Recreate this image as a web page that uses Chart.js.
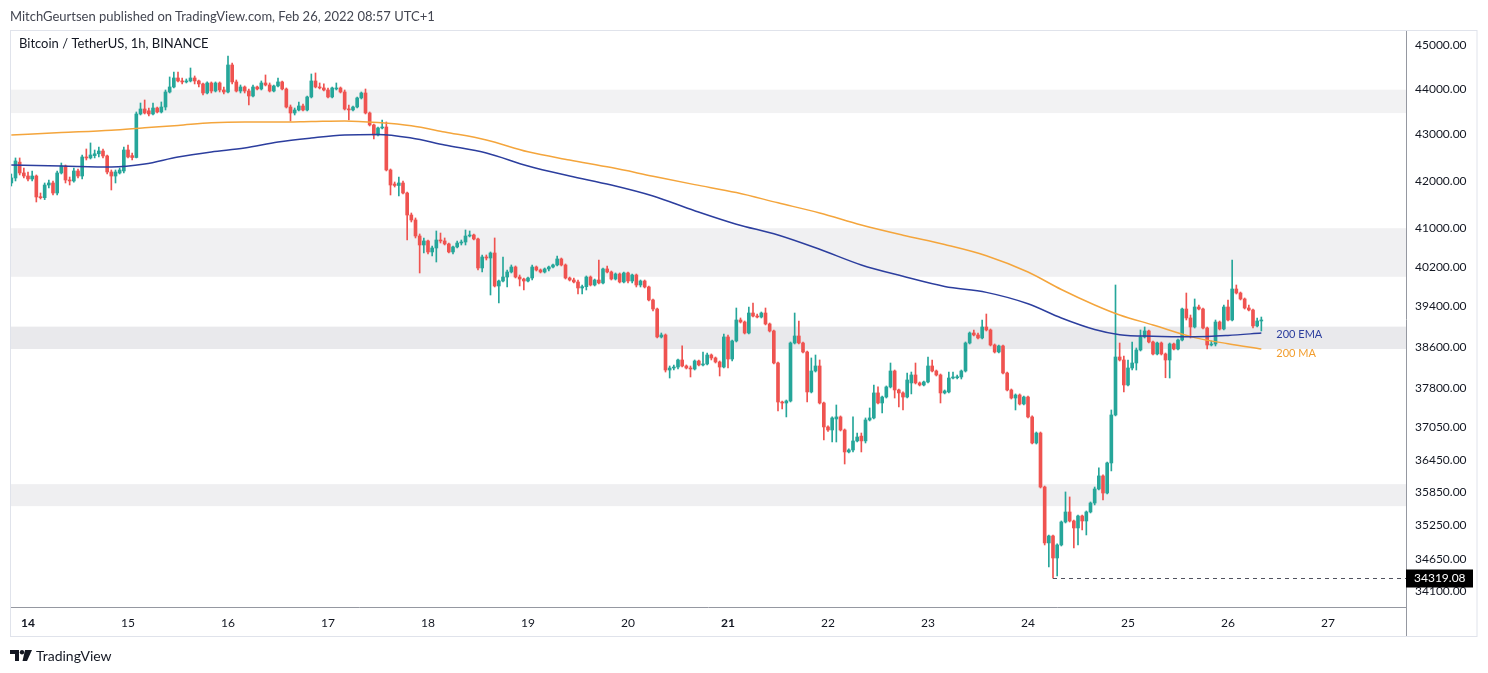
<!DOCTYPE html>
<html>
<head>
<meta charset="utf-8">
<title>BTCUSDT 1h</title>
<script src="https://cdn.jsdelivr.net/npm/chart.js@4.4.1/dist/chart.umd.min.js"></script>
<style>
  body { margin: 0; background: #ffffff; }
  #wrap { position: relative; width: 1488px; height: 673px; }
  #pub { position: absolute; left: 10px; top: 8px; font: 13px 'Lato', sans-serif; color: #434651; white-space: nowrap; }
  #brand { position: absolute; left: 10px; top: 647px; font: 14px 'Lato', sans-serif; color: #131722; display: flex; align-items: center; }
  #brand svg { margin-right: 4px; }
  canvas { position: absolute; left: 0; top: 0; }
</style>
</head>
<body>
<div id="wrap">
  <canvas id="chart" width="1488" height="673"></canvas>
  <div id="pub">MitchGeurtsen published on TradingView.com, Feb 26, 2022 08:57 UTC+1</div>
  <div id="brand">
    <svg width="22" height="11" viewBox="0 0 22 11"><path d="M0 0H9V11H5V4H0Z" fill="#131722"/><circle cx="12" cy="2.2" r="2.2" fill="#131722"/><path d="M15 0H22L17 11H12.5Z" fill="#131722"/></svg>
    <span>TradingView</span>
  </div>
</div>
<script>
// hourly candles, first one is Feb 13 20:00 (hour -4 from Feb 14 00:00)
const firstHour = -4;

const openP = [
  41953, 42060, 42400, 42167, 42102, 42038, 42102, 41656, 41640, 41910,
  41953, 41740, 42167, 42317, 42017, 41996, 42210, 42102, 42511, 42490,
  42540, 42580, 42640, 42533, 42188, 42102, 42167, 42210, 42662, 42540,
  42500, 43450, 43560, 43520, 43450, 43582, 43494, 43604, 43938, 44050,
  44252, 44185, 44163, 44185, 44252, 44185, 44118, 43916, 44140, 43960,
  44140, 43983, 43938, 44545, 44163, 43960, 44050, 43960, 43849, 44050,
  44005, 44140, 44095, 43960, 44073, 44163, 44005, 43604, 43472, 43538,
  43627, 43538, 43827, 44185, 44050, 44028, 43983, 43827, 44005, 44028,
  43938, 43560, 43540, 43604, 43805, 43916, 43472, 43208, 42989, 43142,
  43164, 42231, 41931, 41900, 41953, 41740, 41276, 41172, 40838, 40652,
  40735, 40508, 40590, 40755, 40735, 40673, 40508, 40611, 40693, 40714,
  40838, 40859, 40776, 40180, 40405, 40384, 40487, 39814, 39915, 39996,
  40098, 40200, 39996, 39955, 39915, 39976, 40200, 40139, 40098, 40160,
  40200, 40241, 40364, 40241, 39976, 39935, 39895, 39774, 39800, 39996,
  39834, 39935, 39875, 40160, 40098, 39955, 40057, 39895, 40078, 39915,
  40037, 39834, 39915, 39794, 39532, 39351, 38796, 38835, 38150, 38189,
  38208, 38345, 38228, 38189, 38170, 38325, 38248, 38267, 38442, 38384,
  38306, 38208, 38796, 38364, 38717, 39132, 39092, 38874, 39271, 39211,
  39191, 39271, 39053, 38914, 38286, 37535, 37516, 37554, 38677, 38815,
  38677, 38501, 37727, 38131, 38228, 37516, 37062, 37005, 37213, 37251,
  37005, 36594, 36631, 36799, 36890, 36800, 37194, 37232, 37708, 37516,
  37630, 37823, 38131, 37765, 37708, 37630, 37900, 38054, 37900, 37861,
  37919, 38228, 38131, 38054, 37708, 37727, 37995, 38000, 38015, 38131,
  38677, 38874, 38835, 38776, 38993, 38934, 38638, 38501, 38619, 38092,
  37765, 37611, 37669, 37497, 37630, 37251, 36761, 36948, 35948, 34941,
  35065, 34675, 34905, 35315, 35495, 35333, 35208, 35423, 35333, 35495,
  35657, 35912, 36151, 35839, 36390, 37288, 38403, 38345, 37861, 38189,
  38286, 38540, 38796, 38914, 38697, 38462, 38677, 38462, 38345, 38658,
  38560, 38736, 39351, 39172, 38993, 39391, 39351, 38973, 38638, 38658,
  39092, 38954, 39391, 39132, 39753, 39672, 39552, 39371, 39331, 39013,
  39112
];
const highP = [
  42145, 42490, 42490, 42274, 42188, 42210, 42124, 41740, 41953, 42017,
  41996, 42210, 42381, 42338, 42080, 42274, 42253, 42554, 42684, 42815,
  42662, 42727, 42684, 42554, 42231, 42231, 42274, 42727, 42771, 42597,
  43494, 43693, 43760, 43582, 43693, 43604, 43716, 43983, 44275, 44387,
  44387, 44252, 44230, 44477, 44297, 44207, 44140, 44163, 44163, 44163,
  44163, 44050, 44749, 44590, 44207, 44095, 44073, 44005, 44095, 44073,
  44185, 44320, 44140, 44095, 44252, 44185, 44028, 43649, 43582, 43716,
  43671, 43849, 44342, 44365, 44140, 44118, 44028, 44050, 44140, 44050,
  43983, 43649, 43627, 43827, 43938, 44005, 43494, 43230, 43164, 43318,
  43274, 42253, 41974, 42080, 41996, 41762, 41318, 41214, 40880, 40797,
  40755, 40631, 40942, 40900, 40797, 40693, 40631, 40735, 40755, 40963,
  40942, 40880, 40797, 40446, 40446, 40508, 40797, 39935, 40405, 40139,
  40241, 40221, 40037, 39976, 39996, 40241, 40220, 40160, 40180, 40221,
  40262, 40426, 40384, 40262, 39996, 39976, 39935, 39830, 40017, 40017,
  39955, 40343, 40180, 40221, 40118, 40078, 40078, 40098, 40098, 40057,
  40057, 39935, 39935, 39814, 39552, 39371, 38874, 38855, 38228, 38248,
  38364, 38620, 38248, 38228, 38345, 38345, 38501, 38481, 38462, 38403,
  38325, 38855, 38835, 38736, 39371, 39172, 39112, 39391, 39472, 39251,
  39291, 39371, 39072, 38934, 38306, 37554, 37573, 38697, 39271, 39112,
  38697, 38520, 38384, 38442, 38345, 37535, 37081, 37251, 37478, 37270,
  37024, 36650, 37251, 36948, 36948, 37232, 37421, 37861, 37823, 37650,
  37842, 38286, 38150, 37784, 37727, 38092, 38111, 38286, 37919, 37938,
  38403, 38345, 38150, 38073, 37765, 38111, 38111, 38054, 38150, 38697,
  38894, 38934, 38874, 39132, 39251, 38954, 38658, 38638, 38638, 38111,
  37784, 37689, 37689, 37650, 37650, 37270, 36967, 36967, 35966, 35083,
  35083, 34923, 35333, 35858, 35767, 35351, 35441, 35441, 35513, 35676,
  35948, 36298, 36169, 36408, 37383, 39834, 38677, 38423, 38345, 38697,
  38579, 38934, 38993, 38934, 38717, 38697, 38697, 38481, 38677, 38677,
  38756, 39371, 39672, 39231, 39552, 39431, 39371, 38993, 38717, 39132,
  39112, 39431, 39532, 40343, 39834, 39692, 39572, 39431, 39351, 39172,
  39191
];
const lowP = [
  41889, 41996, 42124, 42060, 41996, 41996, 41550, 41613, 41600, 41846,
  41698, 41698, 42145, 41953, 41910, 41970, 42060, 42038, 42446, 42468,
  42490, 42511, 42490, 42145, 41804, 41953, 42145, 42167, 42490, 42446,
  42490, 43428, 43450, 43406, 43428, 43472, 43472, 43538, 43916, 44028,
  44163, 44118, 44140, 44163, 44118, 44050, 43871, 43894, 43916, 43938,
  43938, 43894, 43916, 44118, 43938, 43916, 43916, 43649, 43827, 43983,
  43983, 44073, 43938, 43938, 44050, 43983, 43582, 43296, 43428, 43516,
  43516, 43516, 43805, 44028, 44005, 43960, 43805, 43805, 43983, 43916,
  43538, 43318, 43520, 43582, 43782, 43450, 43186, 42902, 42967, 43120,
  42210, 41698, 41867, 41677, 41719, 40755, 41130, 40797, 40078, 40487,
  40467, 40426, 40302, 40693, 40652, 40487, 40467, 40590, 40652, 40652,
  40818, 40755, 40139, 40098, 40343, 39632, 39794, 39472, 39895, 39794,
  40078, 39976, 39814, 39733, 39895, 39935, 40118, 40078, 40078, 40118,
  40180, 40221, 40221, 39955, 39915, 39875, 39652, 39652, 39733, 39814,
  39814, 39854, 39854, 40078, 39935, 39935, 39875, 39875, 39875, 39875,
  39794, 39794, 39774, 39512, 39311, 38776, 38776, 38111, 37995, 38150,
  38170, 38208, 38170, 38015, 38150, 38228, 38228, 38248, 38345, 38286,
  38034, 38189, 38189, 38325, 38697, 39072, 38855, 38855, 39191, 39172,
  39172, 39033, 38894, 38267, 37364, 37402, 37251, 37535, 38658, 38658,
  38481, 37535, 37708, 38111, 37497, 36817, 36980, 36780, 36780, 36986,
  36371, 36575, 36594, 36780, 36594, 36761, 37175, 37213, 37497, 37326,
  37611, 37804, 37611, 37440, 37383, 37611, 37689, 37880, 37842, 37842,
  37900, 38111, 38034, 37516, 37689, 37708, 37976, 37976, 37976, 38111,
  38658, 38815, 38756, 38756, 38914, 38619, 38481, 38481, 38073, 37746,
  37592, 37383, 37478, 37478, 37232, 36742, 36742, 35930, 34905, 34517,
  34319.08, 34360, 34887, 35297, 35315, 34852, 34905, 35172, 35083, 35477,
  35622, 35894, 35712, 35821, 36243, 37270, 38325, 37727, 37842, 38150,
  38150, 38520, 38776, 38677, 38442, 38442, 38442, 38000, 37995, 38540,
  38540, 38717, 39132, 38776, 38973, 39331, 38954, 38560, 38619, 38619,
  38934, 38934, 39112, 39112, 39652, 39532, 39351, 39311, 38973, 38993,
  38914
];
const closeP = [
  42060, 42425, 42167, 42102, 42038, 42102, 41656, 41640, 41910, 41953,
  41740, 42167, 42317, 42017, 41996, 42210, 42102, 42511, 42490, 42554,
  42580, 42640, 42533, 42188, 42102, 42188, 42231, 42662, 42511, 42500,
  43450, 43560, 43472, 43450, 43582, 43494, 43604, 43938, 44050, 44252,
  44185, 44163, 44185, 44252, 44185, 44118, 43916, 44140, 43960, 44140,
  43983, 43938, 44545, 44163, 43960, 44050, 43960, 43849, 44050, 44005,
  44140, 44095, 43960, 44073, 44163, 44005, 43604, 43472, 43538, 43627,
  43538, 43827, 44185, 44050, 44028, 43983, 43827, 44028, 44028, 43938,
  43560, 43540, 43604, 43805, 43916, 43472, 43208, 42989, 43142, 43164,
  42231, 41910, 41900, 41953, 41740, 41276, 41172, 40838, 40652, 40735,
  40508, 40590, 40755, 40735, 40673, 40508, 40611, 40693, 40714, 40838,
  40859, 40776, 40180, 40405, 40384, 40487, 39814, 39915, 39996, 40098,
  40200, 39996, 39955, 39915, 39976, 40200, 40139, 40098, 40160, 40200,
  40241, 40364, 40241, 39976, 39935, 39895, 39774, 39800, 39996, 39834,
  39935, 39875, 40160, 40098, 39955, 40057, 39895, 40078, 39915, 40037,
  39834, 39915, 39794, 39532, 39351, 38796, 38835, 38150, 38189, 38208,
  38345, 38228, 38189, 38170, 38325, 38248, 38267, 38442, 38384, 38306,
  38208, 38796, 38364, 38717, 39132, 39092, 38874, 39271, 39211, 39191,
  39271, 39053, 38914, 38286, 37535, 37516, 37554, 38677, 38815, 38677,
  38501, 37727, 38131, 38228, 37516, 37062, 37005, 37232, 37251, 37005,
  36594, 36631, 36799, 36873, 36800, 37194, 37232, 37708, 37516, 37630,
  37823, 38131, 37765, 37708, 37630, 37957, 38054, 37900, 37861, 37919,
  38228, 38131, 38054, 37708, 37746, 37995, 38015, 38015, 38131, 38677,
  38874, 38835, 38776, 38993, 38934, 38638, 38501, 38619, 38092, 37765,
  37611, 37669, 37497, 37630, 37251, 36761, 36948, 35948, 34941, 35065,
  34675, 34905, 35315, 35495, 35333, 35208, 35423, 35333, 35495, 35657,
  35912, 36151, 35839, 36390, 37288, 38403, 38345, 37861, 38189, 38286,
  38540, 38796, 38914, 38697, 38462, 38677, 38462, 38345, 38658, 38560,
  38736, 39351, 39172, 38993, 39391, 39351, 38973, 38638, 38658, 39092,
  38954, 39391, 39132, 39753, 39672, 39552, 39371, 39331, 39013, 39112,
  39132
];

// moving averages at sample hours
const maHours = [-4, 8, 20, 28, 36, 44, 52, 60, 68, 76, 84, 92, 100, 110, 120, 130, 140, 150, 160, 170, 180, 190, 200, 210, 220, 230, 240, 248, 256, 262, 270, 280, 288, 296];
const ema200 = [42338, 42317, 42296, 42360, 42511, 42619, 42705, 42835, 42922, 42989, 43000, 42922, 42771, 42597, 42317, 42103, 41910, 41677, 41367, 41084, 40859, 40563, 40241, 40010, 39804, 39685, 39456, 39172, 38944, 38841, 38809, 38799, 38825, 38874];
const sma200 = [42989, 43041, 43092, 43146, 43197, 43256, 43274, 43274, 43285, 43296, 43261, 43190, 43054, 42880, 42623, 42446, 42282, 42098, 41918, 41749, 41532, 41319, 41067, 40855, 40662, 40432, 40098, 39743, 39432, 39232, 39033, 38783, 38663, 38560];

// drawn zones (price top, price bottom)
const zoneTop = [43990, 41000, 39000, 36000];
const zoneBottom = [43470, 40000, 38560, 35600];

const priceTicks = [45000, 44000, 43000, 42000, 41000, 40200, 39400, 38600, 37800, 37050, 36450, 35850, 35250, 34650, 34100];
const dayLabels = ['14', '15', '16', '17', '18', '19', '20', '21', '22', '23', '24', '25', '26', '27'];
const lowMark = 34319.08;

const FONT = "'Lato', 'Liberation Sans', sans-serif";
const UP = '#26a69a';
const DOWN = '#ef5350';

const hours = closeP.map((c, i) => firstHour + i);
const candleColors = closeP.map((c, i) => c >= openP[i] ? UP : DOWN);
const lowIndex = lowP.indexOf(lowMark);

const zonesPlugin = {
    id: 'zones',
    beforeDatasetsDraw(chart) {
        const ctx = chart.ctx, area = chart.chartArea, y = chart.scales.y;
        const fills = ['#f2f2f3', '#f0f0f2', '#e9e9ec', '#efeff1'];
        ctx.save();
        zoneTop.forEach((top, i) => {
            const y1 = y.getPixelForValue(top), y2 = y.getPixelForValue(zoneBottom[i]);
            ctx.fillStyle = fills[i];
            ctx.fillRect(area.left, y1, area.right - area.left, y2 - y1);
        });
        ctx.restore();
    }
};

const overlayPlugin = {
    id: 'overlay',
    afterDraw(chart) {
        const ctx = chart.ctx, area = chart.chartArea;
        const xs = chart.scales.x, ys = chart.scales.y;
        ctx.save();

        // frame
        ctx.strokeStyle = '#e0e3eb';
        ctx.lineWidth = 1;
        ctx.strokeRect(10.5, 30.5, ys.right - 10.5, xs.bottom - 30);
        ctx.strokeStyle = '#9598a1';
        ctx.beginPath();
        ctx.moveTo(area.right + 0.5, area.bottom);
        ctx.lineTo(area.right + 0.5, xs.bottom);
        ctx.stroke();

        // symbol title
        ctx.fillStyle = '#131722';
        ctx.font = '13px ' + FONT;
        ctx.textBaseline = 'middle';
        ctx.textAlign = 'left';
        ctx.fillText('Bitcoin / TetherUS, 1h, BINANCE', 19, 44);

        // low marker
        const ly = Math.round(ys.getPixelForValue(lowMark)) + 0.5;
        ctx.strokeStyle = '#50535e';
        ctx.setLineDash([4, 4]);
        ctx.beginPath();
        ctx.moveTo(xs.getPixelForValue(hours[lowIndex]), ly);
        ctx.lineTo(area.right, ly);
        ctx.stroke();
        ctx.setLineDash([]);
        ctx.fillStyle = '#000000';
        ctx.fillRect(area.right, ly - 9, 67, 18);
        ctx.fillStyle = '#ffffff';
        ctx.font = '12px ' + FONT;
        ctx.fillText(lowMark.toFixed(2), area.right + 8, ly);

        // indicator names
        const lx = xs.getPixelForValue(maHours[maHours.length - 1]) + 15;
        ctx.font = '11px ' + FONT;
        ctx.fillStyle = '#2c3e9e';
        ctx.fillText('200 EMA', lx, ys.getPixelForValue(ema200[ema200.length - 1]) + 1);
        ctx.fillStyle = '#f29d2e';
        ctx.fillText('200 MA', lx, ys.getPixelForValue(sma200[sma200.length - 1]) + 4);
        ctx.restore();
    }
};

new Chart(document.getElementById('chart'), {
    type: 'bar',
    data: {
        datasets: [
            {
                type: 'line',
                label: '200 EMA',
                data: maHours.map((h, i) => ({ x: h, y: ema200[i] })),
                borderColor: '#2c3e9e',
                borderWidth: 1.5,
                pointRadius: 0,
                cubicInterpolationMode: 'monotone',
                order: 0
            },
            {
                type: 'line',
                label: '200 MA',
                data: maHours.map((h, i) => ({ x: h, y: sma200[i] })),
                borderColor: '#f4a53c',
                borderWidth: 1.5,
                pointRadius: 0,
                cubicInterpolationMode: 'monotone',
                order: 0
            },
            {
                label: 'body',
                data: hours.map((h, i) => ({ x: h, y: [openP[i], closeP[i]] })),
                backgroundColor: candleColors,
                barThickness: 3,
                minBarLength: 1,
                grouped: false,
                order: 1
            },
            {
                label: 'wick',
                data: hours.map((h, i) => ({ x: h, y: [lowP[i], highP[i]] })),
                backgroundColor: candleColors,
                barThickness: 1,
                grouped: false,
                order: 2
            }
        ]
    },
    options: {
        responsive: false,
        animation: false,
        layout: { padding: { left: 10, top: 31, right: 11, bottom: 37 } },
        plugins: {
            legend: { display: false },
            tooltip: { enabled: false }
        },
        scales: {
            x: {
                type: 'linear',
                min: -4.32,
                max: 330.72,
                bounds: 'data',
                offset: false,
                grid: { display: false, drawTicks: false },
                border: { display: true, color: '#9598a1' },
                ticks: {
                    padding: 9,
                    autoSkip: false,
                    maxRotation: 0,
                    color: '#131722',
                    font: (c) => ({ family: FONT, size: 12, weight: (c.index === 0 || c.index === 7) ? 'bold' : 'normal' }),
                    callback: (v) => dayLabels[Math.round(v / 24)]
                },
                afterBuildTicks: (s) => { s.ticks = dayLabels.map((d, i) => ({ value: i * 24 })); },
                afterFit: (s) => { s.height = 29; }
            },
            y: {
                type: 'logarithmic',
                position: 'right',
                min: 33822,
                max: 45321,
                bounds: 'data',
                grid: { display: false, drawTicks: false },
                border: { display: true, color: '#9598a1' },
                ticks: {
                    padding: 9,
                    autoSkip: false,
                    color: '#131722',
                    font: { family: FONT, size: 12 },
                    callback: (v) => Number(v).toFixed(2)
                },
                afterBuildTicks: (s) => { s.ticks = priceTicks.map((v) => ({ value: v })); },
                afterFit: (s) => { s.width = 71; }
            }
        }
    },
    plugins: [zonesPlugin, overlayPlugin]
});
</script>
</body>
</html>
